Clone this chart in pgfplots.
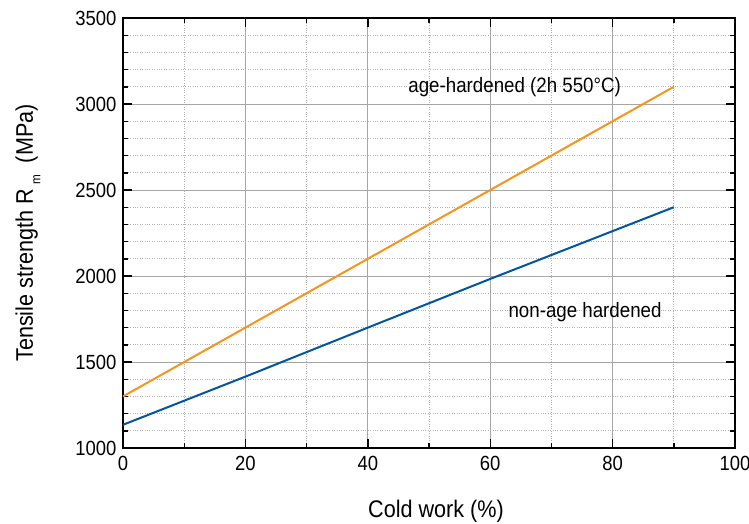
\documentclass[border=0pt]{standalone}
\usepackage{fontspec}
\setmainfont[FakeStretch=0.9]{Liberation Sans}
\usepackage{pgfplots}
\pgfplotsset{compat=1.18}
\definecolor{ageorange}{RGB}{247,148,30}
\definecolor{nonblue}{RGB}{0,85,160}

\begin{document}
\begin{tikzpicture}
  \path[use as bounding box] (-123pt,-75pt) rectangle (626pt,448pt);
  \begin{axis}[
      scale only axis,
      width=612pt, height=430pt,
      xmin=0, xmax=100, ymin=1000, ymax=3500,
      xtick={0,20,...,100}, ytick={1000,1500,...,3500},
      minor x tick num=1, minor y tick num=4,
      tick align=inside,
      major tick length=9pt, minor tick length=5pt,
      every tick/.style={black, line width=1.4pt},
      grid=both,
      major grid style={gray!70, line width=0.9pt},
      minor grid style={gray!60, dotted, line width=0.7pt},
      axis line style={line width=2.4pt},
      ticklabel style={font=\fontsize{20.5}{23}\selectfont},
      /pgf/number format/assume math mode=true,
      /pgf/number format/1000 sep={},
      yticklabel style={xshift=-3pt},
      xticklabel style={yshift=-5pt},
      xlabel={Cold work (\%)},
      ylabel={Tensile strength R\,\raisebox{-0.6ex}{\fontsize{13}{14}\selectfont m}\ \ (MPa)},
      xlabel style={font=\fontsize{24}{28}\selectfont, at={(axis description cs:0.5,0)}, anchor=base, yshift=-69pt, xshift=7pt},
      ylabel style={font=\fontsize{24}{28}\selectfont, at={(axis description cs:-0.176,0.5)}, anchor=north, rotate=0, inner sep=0pt},
    ]
    \addplot[ageorange, line width=2pt] coordinates {(0,1300) (20,1700) (40,2100) (60,2500) (90,3100)};
    \addplot[nonblue, line width=2pt] coordinates {(0,1135) (20,1415) (40,1700) (60,1983) (90,2400)};
    \node[anchor=base, font=\fontsize{20.8}{24}\selectfont] at (axis cs:64,3065) {age-hardened (2h 550°C)};
    \node[anchor=base, font=\fontsize{20.8}{24}\selectfont] at (axis cs:75.5,1756) {non-age hardened};
  \end{axis}
\end{tikzpicture}
\end{document}
